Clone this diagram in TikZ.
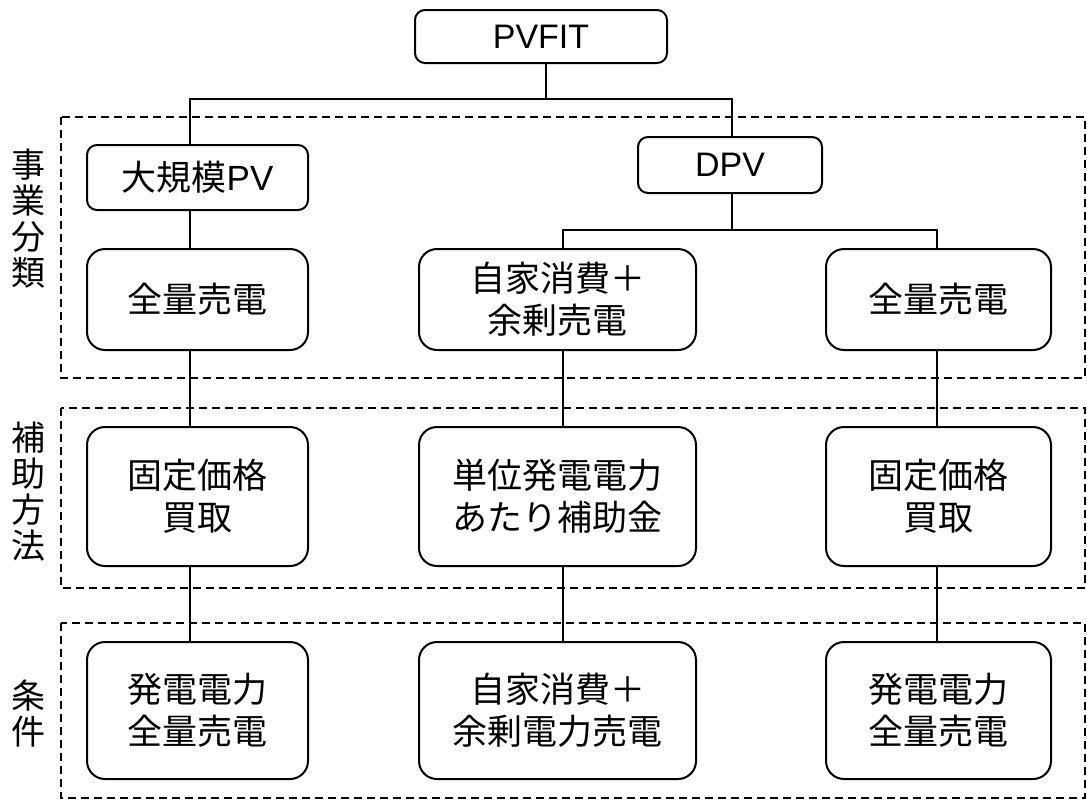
\documentclass[tikz,border=0pt]{standalone}
\usepackage{fontspec}
\setmainfont{Noto Sans CJK JP}
\newfontfamily\latinfont{Liberation Sans}
\begin{document}
\begin{tikzpicture}[x=1pt,y=-1pt,
  box/.style={draw=black,line width=2pt,rounded corners=#1,inner sep=0pt,align=center,
    font=\fontsize{35}{42}\selectfont},
  box/.default=18pt,
  latin/.style={font=\latinfont\fontsize{34}{40}\selectfont},
  conn/.style={draw=black,line width=2pt},
  group/.style={draw=black,line width=2pt,dash pattern=on 8pt off 5pt},
  side/.style={inner sep=0pt,align=center,font=\fontsize{34}{36}\selectfont}]
\useasboundingbox (0,0) rectangle (1087,801);
% groups
\draw[group] (61,117) rectangle (1085,378);
\draw[group] (61,408) rectangle (1085,588);
\draw[group] (61,623) rectangle (1085,798);
% side labels
\node[side] (s1) at (29,219) {事\\業\\分\\類};
\node[side] (s2) at (29,492) {補\\助\\方\\法};
\node[side] (s3) at (29,714) {条\\件};
% nodes
\node[box=10pt,minimum width=252pt,minimum height=53pt,latin] (pv) at (541,36.5) {PVFIT};
\node[box=10pt,minimum width=221pt,minimum height=65pt] (lpv) at (197.5,177.5) {大規模{\latinfont PV}};
\node[box=10pt,minimum width=184pt,minimum height=56pt,latin] (dpv) at (730,165) {DPV};
\node[box,minimum width=221pt,minimum height=101pt] (l1) at (197.5,299.5) {全量売電};
\node[box,minimum width=277pt,minimum height=101pt] (m1) at (557.5,299.5) {自家消費＋\\余剰売電};
\node[box,minimum width=225pt,minimum height=101pt] (r1) at (938.5,299.5) {全量売電};
\node[box,minimum width=221pt,minimum height=139pt] (l2) at (197.5,496.5) {固定価格\\買取};
\node[box,minimum width=277pt,minimum height=139pt] (m2) at (557.5,496.5) {単位発電電力\\あたり補助金};
\node[box,minimum width=225pt,minimum height=139pt] (r2) at (938.5,496.5) {固定価格\\買取};
\node[box,minimum width=221pt,minimum height=137pt] (l3) at (197.5,710.5) {発電電力\\全量売電};
\node[box,minimum width=277pt,minimum height=137pt] (m3) at (557.5,710.5) {自家消費＋\\余剰電力売電};
\node[box,minimum width=225pt,minimum height=137pt] (r3) at (938.5,710.5) {発電電力\\全量売電};
% connector columns
\coordinate (j1) at (546,99);
\coordinate (j2) at (732,230);
\coordinate (cL) at (190,0);
\coordinate (cM) at (563,0);
\coordinate (cR) at (937,0);
\coordinate (cD) at (732,0);
\draw[conn] (pv.south -| j1) -- (j1);
\draw[conn] (lpv.north -| cL) |- (j1) -| (dpv.north -| cD);
\draw[conn] (dpv.south -| cD) -- (j2);
\draw[conn] (m1.north -| cM) |- (j2) -| (r1.north -| cR);
\draw[conn] (lpv.south -| cL) -- (l1.north -| cL);
\draw[conn] (l1.south -| cL) -- (l2.north -| cL);
\draw[conn] (l2.south -| cL) -- (l3.north -| cL);
\draw[conn] (m1.south -| cM) -- (m2.north -| cM);
\draw[conn] (m2.south -| cM) -- (m3.north -| cM);
\draw[conn] (r1.south -| cR) -- (r2.north -| cR);
\draw[conn] (r2.south -| cR) -- (r3.north -| cR);
\end{tikzpicture}
\end{document}
